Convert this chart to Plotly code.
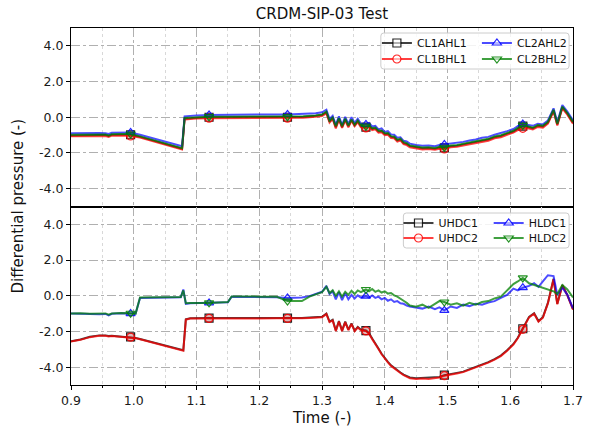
import plotly.graph_objects as go
from plotly.subplots import make_subplots

# ---------------- data ----------------
TIME_TOP = [
    0.900, 0.915, 0.930, 0.945, 0.955, 0.960, 0.965, 0.980, 0.995, 1.010,
    1.030, 1.050, 1.065, 1.077, 1.081, 1.090, 1.100, 1.120, 1.150, 1.200,
    1.245, 1.270, 1.290, 1.300, 1.307, 1.312, 1.317, 1.322, 1.327, 1.332,
    1.337, 1.342, 1.347, 1.352, 1.357, 1.362, 1.370, 1.375, 1.380, 1.385,
    1.390, 1.395, 1.400, 1.405, 1.410, 1.415, 1.420, 1.425, 1.430, 1.435,
    1.440, 1.450, 1.460, 1.470, 1.480, 1.487, 1.495, 1.505, 1.515, 1.525,
    1.535, 1.545, 1.555, 1.565, 1.575, 1.585, 1.595, 1.605, 1.612, 1.620,
    1.628, 1.636, 1.644, 1.652, 1.660, 1.669, 1.675, 1.683, 1.691, 1.700,
]
CL1AHL1 = [
    -1.02, -1.00, -1.01, -0.99, -1.00, -1.05, -0.98, -0.97, -0.98, -1.10,
    -1.30, -1.48, -1.62, -1.76, -0.08, -0.05, -0.03, 0.00, 0.00, 0.01,
    0.00, 0.02, 0.08, 0.12, 0.28, -0.25, -0.05, -0.55, -0.08, -0.55,
    -0.12, -0.50, -0.15, -0.45, -0.22, -0.50, -0.55, -0.48, -0.65, -0.62,
    -0.80, -0.78, -0.95, -0.92, -1.10, -1.12, -1.30, -1.25, -1.45, -1.50,
    -1.62, -1.70, -1.74, -1.72, -1.76, -1.70, -1.72, -1.62, -1.60, -1.52,
    -1.45, -1.40, -1.30, -1.25, -1.12, -1.05, -0.92, -0.80, -0.65, -0.50,
    -0.55, -0.62, -0.48, -0.52, -0.30, 0.38, -0.40, 0.55, 0.20, -0.30,
]
CL1BHL1 = [
    -1.06, -1.05, -1.06, -1.04, -1.05, -1.10, -1.03, -1.02, -1.05, -1.14,
    -1.34, -1.52, -1.66, -1.81, -0.12, -0.09, -0.07, -0.05, -0.05, -0.04,
    -0.05, -0.03, 0.03, 0.07, 0.22, -0.30, -0.10, -0.62, -0.13, -0.60,
    -0.18, -0.56, -0.20, -0.50, -0.28, -0.56, -0.60, -0.55, -0.72, -0.68,
    -0.86, -0.84, -1.00, -0.98, -1.16, -1.18, -1.36, -1.30, -1.50, -1.56,
    -1.68, -1.76, -1.80, -1.78, -1.82, -1.76, -1.78, -1.68, -1.66, -1.58,
    -1.52, -1.46, -1.36, -1.32, -1.18, -1.12, -0.98, -0.86, -0.72, -0.62,
    -0.62, -0.68, -0.54, -0.58, -0.36, 0.32, -0.46, 0.50, 0.14, -0.36,
]
CL2AHL2 = [
    -0.90, -0.88, -0.90, -0.88, -0.90, -0.94, -0.87, -0.86, -0.85, -0.98,
    -1.18, -1.36, -1.50, -1.62, 0.05, 0.08, 0.10, 0.13, 0.15, 0.15,
    0.16, 0.18, 0.22, 0.28, 0.42, -0.10, 0.08, -0.42, 0.05, -0.42,
    0.02, -0.38, 0.00, -0.32, -0.08, -0.36, -0.40, -0.32, -0.52, -0.48,
    -0.68, -0.62, -0.82, -0.78, -0.96, -0.98, -1.15, -1.12, -1.32, -1.36,
    -1.48, -1.56, -1.60, -1.58, -1.62, -1.55, -1.52, -1.48, -1.45, -1.38,
    -1.30, -1.25, -1.15, -1.10, -0.98, -0.90, -0.78, -0.66, -0.50, -0.38,
    -0.42, -0.48, -0.36, -0.40, -0.18, 0.50, -0.28, 0.68, 0.32, -0.18,
]
CL2BHL2 = [
    -0.98, -0.97, -0.98, -0.96, -0.97, -1.02, -0.95, -0.94, -0.94, -1.07,
    -1.27, -1.45, -1.59, -1.74, -0.04, -0.02, 0.00, 0.03, 0.03, 0.04,
    0.03, 0.05, 0.10, 0.15, 0.32, -0.20, -0.02, -0.50, -0.05, -0.50,
    -0.08, -0.46, -0.12, -0.42, -0.18, -0.46, -0.50, -0.45, -0.62, -0.58,
    -0.76, -0.74, -0.90, -0.88, -1.06, -1.08, -1.26, -1.20, -1.40, -1.45,
    -1.58, -1.66, -1.70, -1.68, -1.72, -1.66, -1.68, -1.58, -1.56, -1.48,
    -1.41, -1.36, -1.26, -1.21, -1.08, -1.01, -0.88, -0.76, -0.60, -0.45,
    -0.50, -0.58, -0.44, -0.48, -0.26, 0.42, -0.36, 0.60, 0.24, -0.26,
]

TIME_BOT = [
    0.900, 0.915, 0.930, 0.945, 0.955, 0.960, 0.965, 0.980, 0.995, 1.003,
    1.010, 1.030, 1.050, 1.065, 1.075, 1.079, 1.083, 1.090, 1.120, 1.150,
    1.156, 1.200, 1.228, 1.245, 1.268, 1.280, 1.300, 1.307, 1.312, 1.317,
    1.322, 1.327, 1.332, 1.337, 1.342, 1.347, 1.352, 1.357, 1.362, 1.370,
    1.375, 1.380, 1.385, 1.390, 1.395, 1.400, 1.405, 1.410, 1.415, 1.420,
    1.425, 1.430, 1.435, 1.440, 1.450, 1.460, 1.470, 1.480, 1.487, 1.495,
    1.505, 1.515, 1.525, 1.535, 1.545, 1.555, 1.565, 1.575, 1.585, 1.595,
    1.605, 1.612, 1.620, 1.630, 1.638, 1.645, 1.652, 1.660, 1.669, 1.675,
    1.683, 1.691, 1.700,
]
UHDC1 = [
    -2.55, -2.45, -2.30, -2.22, -2.22, -2.26, -2.24, -2.28, -2.30, -2.36,
    -2.42, -2.60, -2.78, -2.90, -3.00, -3.05, -1.32, -1.26, -1.25, -1.26,
    -1.25, -1.25, -1.24, -1.25, -1.24, -1.22, -1.18, -1.00, -1.45, -1.35,
    -1.95, -1.42, -1.95, -1.45, -1.90, -1.55, -1.95, -1.75, -1.90, -1.95,
    -2.10, -2.40, -2.65, -2.95, -3.25, -3.50, -3.70, -3.90, -4.05, -4.20,
    -4.30, -4.42, -4.48, -4.58, -4.62, -4.60, -4.62, -4.58, -4.55, -4.45,
    -4.40, -4.32, -4.25, -4.12, -4.00, -3.88, -3.72, -3.55, -3.35, -3.05,
    -2.70, -2.35, -1.85, -1.18, -0.98, -1.42, -1.20, -0.40, 0.95, -0.45,
    0.60, 0.05, -0.75,
]
UHDC2 = [
    -2.57, -2.47, -2.32, -2.24, -2.24, -2.28, -2.26, -2.30, -2.32, -2.38,
    -2.44, -2.62, -2.80, -2.92, -3.03, -3.08, -1.34, -1.28, -1.27, -1.28,
    -1.27, -1.27, -1.26, -1.27, -1.26, -1.24, -1.20, -1.03, -1.48, -1.38,
    -1.98, -1.45, -1.98, -1.48, -1.93, -1.58, -1.98, -1.78, -1.93, -1.97,
    -2.13, -2.43, -2.68, -2.98, -3.28, -3.53, -3.73, -3.93, -4.08, -4.23,
    -4.33, -4.45, -4.52, -4.62, -4.66, -4.63, -4.66, -4.62, -4.58, -4.48,
    -4.43, -4.35, -4.28, -4.15, -4.03, -3.91, -3.75, -3.58, -3.38, -3.08,
    -2.73, -2.38, -1.88, -1.21, -1.01, -1.45, -1.23, -0.43, 0.92, -0.48,
    0.57, 0.02, -0.78,
]
HLDC1 = [
    -1.00, -1.02, -1.00, -1.03, -1.02, -1.10, -1.01, -0.98, -1.00, -1.00,
    -0.12, -0.10, -0.12, -0.10, -0.08, 0.35, -0.45, -0.42, -0.40, -0.36,
    -0.05, -0.06, -0.08, -0.12, -0.10, -0.02, 0.22, 0.55, 0.10, 0.25,
    -0.20, 0.20, -0.25, 0.15, -0.20, 0.05, -0.15, 0.02, -0.10, -0.02,
    -0.10, 0.02, -0.12, -0.05, -0.20, -0.12, -0.28, -0.20, -0.35, -0.30,
    -0.42, -0.45, -0.55, -0.60, -0.65, -0.72, -0.60, -0.75, -0.65, -0.82,
    -0.60, -0.68, -0.50, -0.58, -0.45, -0.50, -0.38, -0.30, -0.12, 0.05,
    0.40, 0.30, 0.45, 0.55, 0.70, 0.50, 0.80, 1.15, 1.10, 0.05,
    0.45, 0.05, -0.70,
]
HLDC2 = [
    -1.00, -0.98, -1.01, -1.00, -0.99, -1.06, -1.00, -0.97, -0.98, -1.00,
    -0.10, -0.08, -0.10, -0.08, -0.07, 0.30, -0.42, -0.40, -0.40, -0.35,
    -0.04, -0.05, -0.06, -0.30, -0.30, -0.05, 0.20, 0.50, 0.15, 0.30,
    0.00, 0.25, -0.05, 0.22, 0.05, 0.28, 0.10, 0.30, 0.20, 0.35,
    0.25, 0.38, 0.22, 0.30, 0.18, 0.25, 0.12, 0.15, 0.02, -0.05,
    -0.15, -0.28, -0.40, -0.55, -0.62, -0.50, -0.68, -0.48, -0.30, -0.35,
    -0.50, -0.42, -0.55, -0.40, -0.50, -0.35, -0.30, -0.15, -0.05, 0.30,
    0.65, 0.80, 1.00, 0.70, 0.60, 0.55, 0.45, 0.35, 0.25, 0.10,
    0.60, 0.35, -0.10,
]

MARKER_TIMES = [0.995, 1.120, 1.245, 1.370, 1.495, 1.620]
X_TICKS = [0.9, 1.0, 1.1, 1.2, 1.3, 1.4, 1.5, 1.6, 1.7]
X_TICK_LABELS = ["0.9", "1.0", "1.1", "1.2", "1.3", "1.4", "1.5", "1.6", "1.7"]
Y_TICKS = [-4, -2, 0, 2, 4]
Y_TICK_LABELS = ["-4.0", "-2.0", "0.0", "2.0", "4.0"]

TITLE = "CRDM-SIP-03 Test"
X_TITLE = "Time (-)"
Y_TITLE = "Differential pressure (-)"

for arr in (CL1AHL1, CL1BHL1, CL2AHL2, CL2BHL2):
    assert len(arr) == len(TIME_TOP), len(arr)
for arr in (UHDC1, UHDC2, HLDC1, HLDC2):
    assert len(arr) == len(TIME_BOT), len(arr)

# ---------------- styles ----------------
FONT = "DejaVu Sans"
COLORS = {
    "k": ("rgba(0,0,0,0.75)", "rgba(0,0,0,0.15)", "rgba(0,0,0,0.85)"),
    "r": ("rgba(255,0,0,0.75)", "rgba(255,0,0,0.15)", "rgba(255,0,0,0.85)"),
    "b": ("rgba(0,0,255,0.7)", "rgba(0,0,255,0.12)", "rgba(0,0,255,0.85)"),
    "g": ("rgba(0,128,0,0.75)", "rgba(0,128,0,0.12)", "rgba(0,128,0,0.85)"),
}

W, H = 593, 430
ML, MR, MT, MB = 71, 10, 28, 45
PW, PH = W - ML - MR, H - MT - MB


def px_x(px):
    return (px - ML) / PW


def px_y(py):
    return (H - MB - py) / PH


SERIES = [
    # name, times, values, color, symbol, row, legend text-left px, legend row-center px
    ("CL1AHL1", TIME_TOP, CL1AHL1, "k", "square", 1, 423, 43),
    ("CL1BHL1", TIME_TOP, CL1BHL1, "r", "circle", 1, 423, 59),
    ("CL2AHL2", TIME_TOP, CL2AHL2, "b", "triangle-up", 1, 525, 43),
    ("CL2BHL2", TIME_TOP, CL2BHL2, "g", "triangle-down", 1, 525, 59),
    ("UHDC1", TIME_BOT, UHDC1, "k", "square", 2, 445, 223),
    ("UHDC2", TIME_BOT, UHDC2, "r", "circle", 2, 445, 238),
    ("HLDC1", TIME_BOT, HLDC1, "b", "triangle-up", 2, 537, 223),
    ("HLDC2", TIME_BOT, HLDC2, "g", "triangle-down", 2, 537, 238),
]

fig = make_subplots(rows=2, cols=1, shared_xaxes=True, vertical_spacing=0)

legend_layouts = {}
for k, (name, tt, vals, c, sym, row, tx, ty) in enumerate(SERIES):
    line_c, fill_c, edge_c = COLORS[c]
    marker = dict(symbol=sym, size=8, color=fill_c, line=dict(color=edge_c, width=1.2))
    fig.add_trace(go.Scatter(x=tt, y=vals, mode="lines", line=dict(color=line_c, width=2),
                             showlegend=False, hoverinfo="skip"), row=row, col=1)
    mx = [t for t in MARKER_TIMES]
    my = [vals[tt.index(t)] for t in MARKER_TIMES]
    fig.add_trace(go.Scatter(x=mx, y=my, mode="markers", marker=marker,
                             showlegend=False, hoverinfo="skip"), row=row, col=1)
    lname = "legend" if k == 0 else f"legend{k + 1}"
    fig.add_trace(go.Scatter(x=[None], y=[None], mode="lines+markers", name=name,
                             line=dict(color=line_c, width=2),
                             marker=dict(symbol=sym, size=8, color="rgba(255,255,255,0.6)",
                                         line=dict(color=edge_c, width=1.2)),
                             legend=lname, showlegend=True), row=row, col=1)
    legend_layouts[lname] = dict(
        x=px_x(tx - 40), xanchor="left", y=px_y(ty - 14.5), yanchor="top",
        bgcolor="rgba(0,0,0,0)", borderwidth=0,
        font=dict(family=FONT, size=11, color="#111111"),
    )

fig.update_layout(**legend_layouts)


def rounded_box(x0p, y0p, x1p, y1p, r=3):
    x0, x1 = px_x(x0p), px_x(x1p)
    yb, yt = px_y(y1p), px_y(y0p)
    rx, ry = r / PW, r / PH
    return (f"M{x0 + rx},{yt} L{x1 - rx},{yt} Q{x1},{yt} {x1},{yt - ry} "
            f"L{x1},{yb + ry} Q{x1},{yb} {x1 - rx},{yb} L{x0 + rx},{yb} "
            f"Q{x0},{yb} {x0},{yb + ry} L{x0},{yt - ry} Q{x0},{yt} {x0 + rx},{yt} Z")


for box in [(387, 33, 579, 69), (410, 213, 579, 248)]:
    fig.add_shape(type="path", path=rounded_box(*box), xref="paper", yref="paper",
                  line=dict(color="#cccccc", width=1), fillcolor="rgba(255,255,255,0.85)",
                  layer="above")

axis_common = dict(
    showline=True, linecolor="#000000", linewidth=1, mirror=True,
    showgrid=True, gridcolor="#b0b0b0", gridwidth=1, griddash="dashdot",
    zeroline=False, ticks="outside", ticklen=4, tickcolor="#000000",
    tickfont=dict(family=FONT, size=12.5, color="#1a1a1a"),
)
for r in (1, 2):
    fig.update_xaxes(range=[0.9, 1.7], tickvals=X_TICKS, ticktext=X_TICK_LABELS,
                     minor=dict(dtick=0.05, tick0=0.9, showgrid=True, gridcolor="#d8d8d8",
                                griddash="dot", ticks="outside" if r == 2 else "", ticklen=2,
                                tickcolor="#000000"),
                     row=r, col=1, **axis_common)
    fig.update_yaxes(range=[-5, 5], tickvals=Y_TICKS, ticktext=Y_TICK_LABELS,
                     row=r, col=1, **axis_common)
fig.update_xaxes(ticks="", showticklabels=False, row=1, col=1)

fig.add_annotation(text=Y_TITLE, xref="paper", yref="paper", x=px_x(16), y=0.5,
                   xanchor="center", yanchor="middle", textangle=-90, showarrow=False,
                   font=dict(family=FONT, size=15, color="#111111"))
fig.add_annotation(text=X_TITLE, xref="paper", yref="paper", x=0.5, y=px_y(418),
                   xanchor="center", yanchor="middle", showarrow=False,
                   font=dict(family=FONT, size=15, color="#111111"))

fig.update_layout(
    width=W, height=H,
    margin=dict(l=ML, r=MR, t=MT, b=MB),
    paper_bgcolor="white", plot_bgcolor="white",
    title=dict(text=TITLE, x=0.5, xref="paper", y=1 - 14 / H, yanchor="middle",
               font=dict(family=FONT, size=15, color="#111111")),
    font=dict(family=FONT),
)

fig.write_html("out.html", config={"displayModeBar": False},
               post_script="document.body.style.margin='0px';document.body.style.overflow='hidden';")
